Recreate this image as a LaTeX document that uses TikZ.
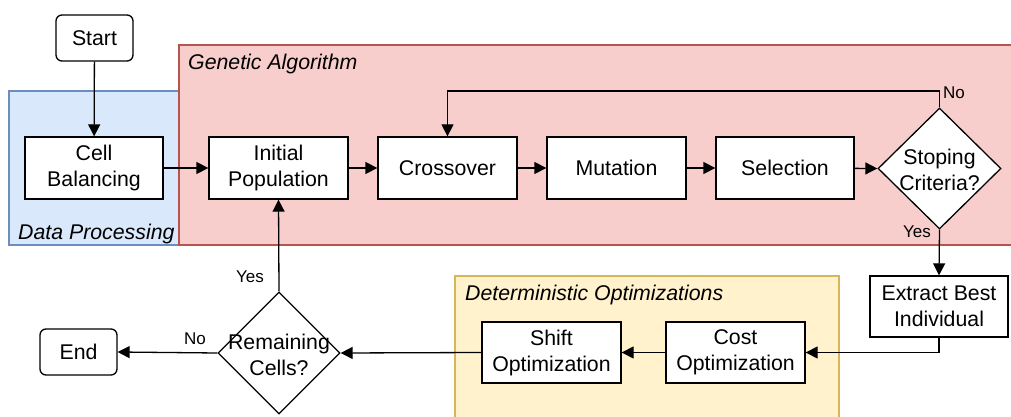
\documentclass[tikz,border=0pt]{standalone}
\usepackage{fontspec}
\setmainfont{Liberation Sans}
\usetikzlibrary{shapes.geometric,arrows.meta}
\definecolor{bluefill}{HTML}{DAE8FC}
\definecolor{bluedraw}{HTML}{6C8EBF}
\definecolor{redfill}{HTML}{F8CECC}
\definecolor{reddraw}{HTML}{B85450}
\definecolor{yelfill}{HTML}{FFF2CC}
\definecolor{yeldraw}{HTML}{D6B656}
\tikzset{
  box/.style={draw, fill=white, line width=1.3pt, minimum width=139pt, minimum height=62pt, inner sep=0pt, align=center, font=\fontsize{21.3}{26}\selectfont},
  term/.style={box, rounded corners=6pt, minimum width=77pt, minimum height=46pt},
  diam/.style={draw, fill=white, line width=1.3pt, diamond, inner sep=0pt, minimum width=123pt, minimum height=121pt},
  dtext/.style={align=center, inner sep=0pt, font=\fontsize{21.3}{26}\selectfont},
  arr/.style={line width=1.3pt, -{Triangle[length=12pt,width=12pt]}},
  lbl/.style={inner sep=0pt, font=\fontsize{17}{20}\selectfont},
  reg/.style={inner sep=0pt, font=\fontsize{21.3}{26}\selectfont\itshape, anchor=base west},
}
\begin{document}
\begin{tikzpicture}[x=1pt,y=-1pt]
\useasboundingbox (0,0) rectangle (1011,417);
\begin{scope}
\clip (0,0) rectangle (1011,417);
% regions
\draw[fill=bluefill, draw=bluedraw, line width=1.3pt] (9,91) rectangle (179,245);
\draw[fill=redfill, draw=reddraw, line width=1.3pt] (179,45) rectangle (1030,245);
\draw[fill=yelfill, draw=yeldraw, line width=1.3pt] (455,276) rectangle (839,430);
\end{scope}
\node[reg] (ga) at (188,70) {Genetic Algorithm};
\node[reg] (dp) at (18,239) {Data Processing};
\node[reg] (do) at (465,300) {Deterministic Optimizations};
% nodes
\node[term] (start) at (94.5,38) {Start};
\node[box, minimum width=138pt] (cell) at (94,168) {Cell\\Balancing};
\node[box] (init) at (278.5,168) {Initial\\Population};
\node[box] (cross) at (447.5,168) {Crossover};
\node[box] (mut) at (616.5,168) {Mutation};
\node[box, minimum width=138pt] (sel) at (785,168) {Selection};
\node[diam] (stop) at (939.5,168.5) {};
\node[dtext] (stoptxt) at (939.5,170) {Stoping\\Criteria?};
\node[box, minimum width=138pt, minimum height=61pt] (extract) at (939,306.5) {Extract Best\\Individual};
\node[box, minimum height=61pt] (cost) at (735.5,352.5) {Cost\\Optimization};
\node[box, minimum height=61pt] (shift) at (551.5,352.5) {Shift\\Optimization};
\node[diam, minimum width=122pt, minimum height=122pt] (remain) at (279,353) {};
\node[dtext] (remtxt) at (279,355) {Remaining\\Cells?};
\node[term] (end) at (78.5,352) {End};
% connectors
\draw[arr] (start) -- (cell);
\draw[arr] (cell) -- (init);
\draw[arr] (init) -- (cross);
\draw[arr] (cross) -- (mut);
\draw[arr] (mut) -- (sel);
\draw[arr] (sel) -- (stop.west);
\coordinate (nocorner) at (939.5,91);
\draw[arr] (stop.north) -- (nocorner) -| (cross.north);
\draw[arr] (stop.south) -- (extract.north);
\draw[arr] (extract.south) |- (cost.east);
\draw[arr] (cost) -- (shift);
\draw[arr] (shift.west) -- (remain.east);
\draw[arr] (remain.west) -- (end.east);
\draw[arr] (remain.north) -- (init.south);
% labels
\node[lbl, anchor=west] (lno1) at (943,93) {No};
\node[lbl, anchor=east] (lyes1) at (931,232) {Yes};
\node[lbl, anchor=east] (lyes2) at (264,277) {Yes};
\node[lbl, anchor=east] (lno2) at (206,339) {No};
\end{tikzpicture}
\end{document}
